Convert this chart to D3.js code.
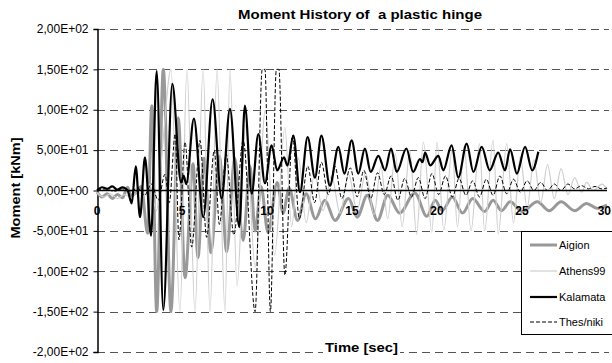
<!DOCTYPE html>
<html><head><meta charset="utf-8">
<script src="https://cdn.jsdelivr.net/npm/d3@7"></script>
<style>
body{margin:0;background:#fff;}
text{font-family:"Liberation Sans",Arial,sans-serif;}
</style></head>
<body><svg id="c" width="612" height="363"></svg>
<script>
const title = "Moment History of  a plastic hinge";
const yTicks = [200,150,100,50,0,-50,-100,-150,-200];
const yTickLabels = ["2,00E+02","1,50E+02","1,00E+02","5,00E+01","0,00E+00","-5,00E+01","-1,00E+02","-1,50E+02","-2,00E+02"];
const xTicks = [0,5,10,15,20,25,30];
const seriesNames = ["Aigion","Athens99","Kalamata","Thes/niki"];

const aigion = [[0,-2],[0.3,-8],[0.6,-4],[0.9,-10],[1.2,-5],[1.5,-9],[1.8,4],[2.0,-6],[2.3,-3],[2.6,5],[2.98,-53],[3.22,105],[3.51,-150],[3.9,150],[4.35,-150],[4.78,90],[5.18,-108],[5.65,33],[5.94,-83],[6.3,40],[6.7,-77],[7.2,42],[7.63,-76],[8.1,40],[8.6,-62],[9.0,30],[9.3,-50],[9.65,5],[10.06,-52],[10.6,10],[10.95,-28],[11.3,3],[11.8,-37],[12.3,-4],[12.85,-35],[13.4,-12],[14.0,-37],[14.8,-10],[15.3,-33],[15.9,-6],[16.5,-37],[17.1,-6],[17.8,-28],[18.7,-3],[19.4,-32],[19.9,-12],[20.3,-25],[20.9,-8],[21.5,-28],[22.1,-10],[22.8,-26],[23.3,-12],[23.8,-25],[24.3,-14],[25.0,-26],[25.9,-14],[26.6,-25],[27.3,-14],[28.1,-25],[28.8,-16],[29.4,-22],[30,-18]];

const athens99 = [[0,-3],[0.4,-8],[0.8,-4],[1.2,-10],[1.6,-5],[2.0,-8],[2.4,-2],[2.8,-6],[3.1,8],[3.5,-25],[3.88,60],[4.35,150],[4.88,-150],[5.29,150],[5.76,-150],[6.24,150],[6.65,-150],[7.06,150],[7.53,-150],[7.82,150],[8.24,-118],[8.75,80],[9.3,-95],[9.9,100],[10.45,-80],[11.05,78],[11.45,-45],[11.85,40],[12.3,-40],[12.8,20],[13.3,-25],[13.8,18],[14.3,-28],[14.8,20],[15.3,-25],[15.8,22],[16.3,-30],[16.7,30],[17.1,-35],[17.55,45],[17.95,-45],[18.4,50],[18.8,-54],[19.2,60],[19.7,-52],[20.0,60],[20.4,-49],[20.9,52],[21.2,-45],[21.6,55],[22.0,-50],[22.5,58],[22.8,-50],[23.3,62],[23.6,-54],[24.1,58],[24.5,-40],[24.9,42],[25.3,-22],[25.7,38],[26.1,-15],[26.5,32],[26.9,-10],[27.3,27],[27.7,-5],[28.1,16],[28.5,-2],[28.8,10],[29.2,0],[29.7,8],[30,2]];

const kalamata = [[0,0],[0.3,4],[0.6,2],[0.9,5],[1.2,1],[1.5,4],[1.8,0],[2.04,-16],[2.28,30],[2.53,-33],[2.82,41],[3.18,-56],[3.51,148],[3.9,-148],[4.43,132],[4.94,10],[5.1,18],[5.25,8],[5.7,89],[6.25,-33],[6.8,113],[7.33,-10],[7.82,101],[8.37,-45],[8.7,105],[9.1,-4],[9.49,70],[9.88,9],[10.27,56],[10.6,25],[11.0,41],[11.2,31],[11.55,68],[11.94,-2],[12.39,66],[12.82,16],[13.2,68],[13.7,6],[14.2,54],[14.55,21],[14.98,62],[15.37,21],[15.76,52],[16.1,23],[16.55,43],[16.94,25],[17.3,52],[17.63,23],[18.2,52],[18.6,23],[19.0,39],[19.15,35],[19.3,47],[19.6,31],[20.08,43],[20.37,25],[20.86,56],[21.25,16],[21.75,58],[22.14,23],[22.63,54],[23.1,25],[23.6,47],[24.0,25],[24.3,51],[24.7,21],[25.18,54],[25.6,25],[25.96,48]];

const thesniki = [[0,0],[0.5,2],[1.0,-1],[1.5,2],[2.0,-1],[2.4,3],[2.8,-6],[3.2,8],[3.6,-12],[4.0,20],[4.25,-15],[4.6,70],[4.82,-61],[5.18,60],[5.57,-70],[6.06,62],[6.45,-58],[6.9,50],[7.2,-42],[7.6,45],[8.05,-55],[8.6,62],[9.3,-150],[9.72,150],[9.88,150],[10.2,-150],[10.55,150],[10.7,150],[11.05,-105],[11.5,68],[11.9,-35],[12.4,30],[12.8,-15],[13.2,35],[13.6,-5],[14.0,30],[14.4,-10],[14.9,28],[15.3,-8],[15.7,25],[16.1,-10],[16.5,22],[16.9,-5],[17.3,18],[17.7,-12],[18.1,15],[18.5,-8],[18.9,16],[19.3,-10],[19.7,21],[20.1,-5],[20.5,18],[20.9,-8],[21.3,15],[21.7,-6],[22.1,12],[22.5,-8],[22.9,14],[23.3,-6],[23.7,18],[24.1,-4],[24.5,14],[24.9,-2],[25.3,12],[25.7,0],[26.1,10],[26.5,0],[26.9,8],[27.3,0],[27.7,8],[28.1,2],[28.5,6],[28.9,2],[29.3,5],[29.7,2],[30,3]];

const svg = d3.select("#c");
const x = d3.scaleLinear().domain([0,30]).range([97,607]);
const y = d3.scaleLinear().domain([-200,200]).range([352,29]);

// gridlines
svg.append("g").selectAll("line").data(yTicks.filter(v=>v!==0)).join("line")
  .attr("x1",97).attr("x2",609).attr("y1",d=>Math.round(y(d))+0.5).attr("y2",d=>Math.round(y(d))+0.5)
  .attr("stroke","#555").attr("stroke-width",1).attr("stroke-dasharray","8,5");

// y axis
const yAxis = d3.axisLeft(y).tickValues(yTicks).tickSize(4).tickFormat((d,i)=>yTickLabels[i]);
const ga = svg.append("g").attr("transform","translate(97.5,0)").call(yAxis);
ga.select(".domain").attr("stroke","#000").attr("stroke-width",1.5);
ga.selectAll(".tick line").attr("stroke","#000");
ga.selectAll(".tick text").attr("font-size","12px").attr("font-family","Liberation Sans, Arial, sans-serif").attr("fill","#000").attr("x",-9);

// series
const line = d3.line().x(d=>x(d[0])).y(d=>y(d[1])).curve(d3.curveMonotoneX);
const styles = [
  {data:aigion, color:"#999999", w:3, dash:null},
  {data:athens99, color:"#cfcfcf", w:1.2, dash:null},
  {data:kalamata, color:"#000000", w:2.2, dash:null},
  {data:thesniki, color:"#000000", w:1, dash:"4,2"}
];
styles.forEach(s=>{
  svg.append("path").datum(s.data).attr("d",line).attr("fill","none")
    .attr("stroke",s.color).attr("stroke-width",s.w).attr("stroke-linejoin","round")
    .attr("stroke-dasharray",s.dash);
});

// zero axis
svg.append("line").attr("x1",97).attr("x2",607).attr("y1",y(0)).attr("y2",y(0)).attr("stroke","#000").attr("stroke-width",1.5);
svg.append("g").selectAll("text").data(xTicks).join("text")
  .attr("x",d=>d===30?611:x(d)).attr("y",y(0)+24).attr("text-anchor",d=>d===30?"end":"middle")
  .attr("font-size","12px").attr("font-weight","bold").attr("fill","#000").text(d=>d);

// title
svg.append("text").attr("x",238).attr("y",19).attr("font-size","13px")
  .attr("font-weight","bold").style("white-space","pre")
  .attr("textLength",244).attr("lengthAdjust","spacingAndGlyphs").text(title);
// y title
svg.append("text").attr("transform","translate(20,188) rotate(-90)").attr("text-anchor","middle")
  .attr("font-size","13px").attr("font-weight","bold")
  .attr("textLength",101).attr("lengthAdjust","spacingAndGlyphs").text("Moment [kNm]");
// x title
const xrect = svg.append("rect").attr("fill","#fff");
const xt = svg.append("text").attr("x",325).attr("y",352).attr("font-size","13px").attr("font-weight","bold")
  .attr("textLength",73).attr("lengthAdjust","spacingAndGlyphs").text("Time [sec]");
const bb = xt.node().getBBox();
xrect.attr("x",bb.x-2).attr("y",bb.y).attr("width",bb.width+4).attr("height",bb.height);

// legend
const lg = svg.append("g");
lg.append("rect").attr("x",521.5).attr("y",231.5).attr("width",110).attr("height",103).attr("fill","#fff").attr("stroke","#000");
const ly = [245,271,297,322];
styles.forEach((s,i)=>{
  lg.append("line").attr("x1",530).attr("x2",557).attr("y1",ly[i]).attr("y2",ly[i])
    .attr("stroke",s.color).attr("stroke-width",s.w).attr("stroke-dasharray",s.dash);
  lg.append("text").attr("x",559).attr("y",ly[i]+4).attr("font-size","11px").text(seriesNames[i]);
});
</script></body></html>
